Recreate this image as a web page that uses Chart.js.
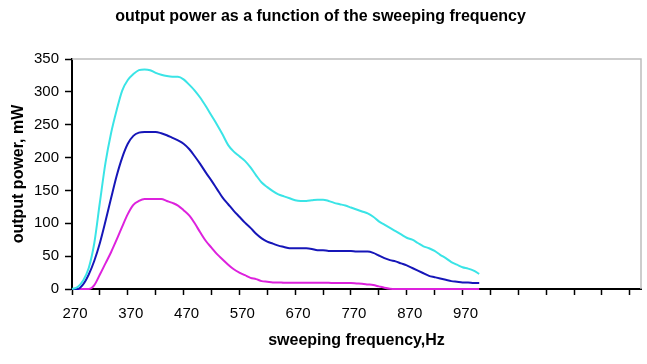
<!DOCTYPE html>
<html>
<head>
<meta charset="utf-8">
<script src="https://cdn.jsdelivr.net/npm/chart.js@4.4.1/dist/chart.umd.min.js"></script>
<style>
html,body{margin:0;padding:0;background:#fff;}
canvas{display:block;}
</style>
</head>
<body>
<canvas id="c" width="647" height="364"></canvas>
<script>
const chartTitle = 'output power as a function of the sweeping frequency';
const xAxisTitle = 'sweeping frequency,Hz';
const yAxisTitle = 'output power, mW';

const frequencies = [
  270,280,290,300,310,320,330,340,350,360,
  370,380,390,400,410,420,430,440,450,460,
  470,480,490,500,510,520,530,540,550,560,
  570,580,590,600,610,620,630,640,650,660,
  670,680,690,700,710,720,730,740,750,760,
  770,780,790,800,810,820,830,840,850,860,
  870,880,890,900,910,920,930,940,950,960,
  970,980,990,1000
];
const cyanSeries = [
  0,3,13,32,70,132,192,237,272,302,
  318,327,333,334,333,329,326,324,323,323,
  319,311,302,291,278,264,250,235,219,209,
  202,195,185,173,162,155,149,144,141,138,
  135,134,134,135,136,136,134,131,129,127,
  124,121,118,115,110,103,98,93,88,83,
  78,75,70,65,62,58,52,47,41,37,
  33,31,28,23
];
const blueSeries = [
  0,0,7,22,43,70,103,138,172,200,
  221,233,238,239,239,239,237,234,230,226,
  221,213,202,190,177,165,152,139,129,119,
  110,101,93,84,77,72,69,66,64,62,
  62,62,62,61,59,59,58,58,58,58,
  58,57,57,57,55,51,47,44,42,39,
  36,32,28,24,20,18,16,14,12,11,
  10,10,9,9
];
const magentaSeries = [
  0,0,0,0,6,22,39,56,75,95,
  114,128,134,137,137,137,137,134,131,127,
  120,112,100,86,73,63,53,45,37,30,
  25,21,17,15,12,11,10,10,9.5,9.5,
  9.5,9.5,9.5,9.5,9.5,9.5,9.5,9,9,9,
  9,8.5,8,7,6,4,2,0.5,0,0,
  0,0,0,0,0,0,0,0,0,0,
  0,0,0,0
];
const xTickMarks = [270,320,370,420,470,520,570,620,670,720,770,820,870,920,970,1020,1070,1120,1170,1220,1270];
const xTickLabels = [270,370,470,570,670,770,870,970];
const yTickValues = [0,50,100,150,200,250,300,350];

const FONT = '"Liberation Sans", Arial, Helvetica, sans-serif';

const toPoints = arr => arr.map((v, i) => ({x: frequencies[i], y: v}));

const framePlugin = {
  id: 'frame',
  beforeDatasetsDraw(chart) {
    const {ctx, chartArea: a} = chart;
    ctx.save();
    ctx.strokeStyle = '#bdbdbd';
    ctx.lineWidth = 1.5;
    ctx.beginPath();
    ctx.moveTo(a.left, a.top);
    ctx.lineTo(a.right, a.top);
    ctx.lineTo(a.right, a.bottom);
    ctx.stroke();
    ctx.restore();
  }
};

const lineDs = (data, color) => ({
  data: toPoints(data),
  borderColor: color,
  backgroundColor: color,
  borderWidth: 2,
  pointRadius: 0,
  fill: false,
  cubicInterpolationMode: 'monotone',
  clip: false
});

new Chart(document.getElementById('c'), {
  type: 'line',
  data: {
    datasets: [
      lineDs(cyanSeries, '#3ae4e6'),
      lineDs(blueSeries, '#1616b8'),
      lineDs(magentaSeries, '#dd22dd')
    ]
  },
  plugins: [framePlugin],
  options: {
    responsive: false,
    animation: false,
    layout: {padding: {left: 0, right: 6, top: 0, bottom: 0}},
    plugins: {
      legend: {display: false},
      tooltip: {enabled: false},
      title: {
        display: true,
        text: chartTitle,
        color: '#000',
        font: {family: FONT, size: 16, weight: 'bold'},
        padding: {top: 7.4, bottom: 32.4}
      }
    },
    scales: {
      x: {
        type: 'linear',
        min: 270,
        max: 1290,
        afterBuildTicks: s => { s.ticks = xTickMarks.map(v => ({value: v})); },
        afterFit: s => { s.height = 75; },
        ticks: {
          autoSkip: false,
          maxRotation: 0,
          padding: 10,
          labelOffset: 3,
          color: '#000',
          font: {family: FONT, size: 15},
          callback: v => xTickLabels.includes(v) ? String(v) : ''
        },
        grid: {drawOnChartArea: false, drawTicks: true, tickLength: 6, tickColor: '#000', tickWidth: 1.5},
        border: {display: true, color: '#000', width: 2},
        title: {
          display: true,
          text: xAxisTitle,
          color: '#000',
          font: {family: FONT, size: 16, weight: 'bold'},
          padding: {top: 0, bottom: 13.4}
        }
      },
      y: {
        min: 0,
        max: 350,
        afterBuildTicks: s => { s.ticks = yTickValues.map(v => ({value: v})); },
        afterFit: s => { s.width = 72; },
        ticks: {
          padding: 6,
          color: '#000',
          font: {family: FONT, size: 15}
        },
        grid: {drawOnChartArea: false, drawTicks: true, tickLength: 7, tickColor: '#000', tickWidth: 1.5},
        border: {display: true, color: '#000', width: 2},
        title: {
          display: true,
          text: yAxisTitle,
          color: '#000',
          font: {family: FONT, size: 16, weight: 'bold'},
          padding: {top: 9, bottom: 0}
        }
      }
    }
  }
});
</script>
</body>
</html>
